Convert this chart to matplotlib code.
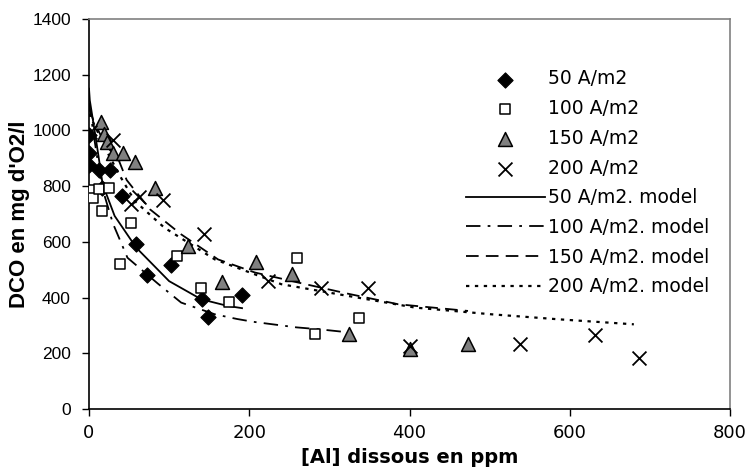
import matplotlib
matplotlib.use("Agg")
import matplotlib.pyplot as plt

plt.rcParams['font.family'] = ['DejaVu Sans']

# ---- data ----
x50 = [0, 0, 0, 13, 26, 16, 41, 59, 73, 102, 141, 149, 191]
y50 = [983, 918, 876, 858, 858, 792, 765, 593, 481, 516, 394, 330, 408]

x100 = [3, 5, 12, 25, 16, 53, 39, 110, 140, 175, 260, 282, 337]
y100 = [786, 756, 790, 792, 712, 669, 519, 549, 433, 384, 541, 268, 325]

x150 = [15, 19, 22, 30, 43, 57, 82, 124, 166, 209, 253, 325, 400, 473]
y150 = [1031, 987, 960, 920, 920, 888, 792, 585, 456, 528, 486, 268, 216, 234]

x200 = [1, 30, 62, 53, 92, 144, 223, 289, 348, 400, 538, 631, 686]
y200 = [995, 965, 760, 736, 750, 627, 459, 435, 435, 226, 234, 264, 184]

m50_x = [0, 1, 7.5, 12, 17, 32, 59, 100, 140, 173, 191]
m50_y = [1150, 1108, 990, 905, 807, 693, 579, 459, 394, 370, 362]

m100_x = [0, 5, 12, 20, 30, 48, 86, 115, 157, 185, 205, 259, 288, 334]
m100_y = [1100, 1000, 870, 760, 665, 543, 450, 382, 340, 323, 313, 293, 286, 272]

m150_x = [0, 5, 20, 37, 47, 76, 115, 161, 207, 261, 323, 386, 473]
m150_y = [1080, 1040, 950, 894, 822, 717, 627, 537, 490, 454, 414, 376, 352]

m200_x = [0, 10, 25, 40, 57, 94, 157, 240, 323, 407, 502, 586, 680]
m200_y = [1060, 1000, 910, 830, 747, 651, 537, 448, 406, 364, 340, 322, 304]

x_ticks = [0, 200, 400, 600, 800]
y_ticks = [0, 200, 400, 600, 800, 1000, 1200, 1400]

labels = ["50 A/m2", "100 A/m2", "150 A/m2", "200 A/m2",
          "50 A/m2. model", "100 A/m2. model", "150 A/m2. model", "200 A/m2. model"]

fig = plt.figure(figsize=(7.5, 4.75), dpi=100)
ax = fig.add_axes([89/750, 1-409/475, (730-89)/750, (409-19)/475])

ax.scatter(x50, y50, marker='D', s=60, c='black', edgecolors='black', linewidths=0.8, zorder=3, label=labels[0])
ax.scatter(x100, y100, marker='s', s=60, c='white', edgecolors='black', linewidths=1.1, zorder=3, label=labels[1])
ax.scatter(x150, y150, marker='^', s=100, c='#808080', edgecolors='black', linewidths=1.1, zorder=3, label=labels[2])
ax.scatter(x200, y200, marker='x', s=100, c='black', linewidths=1.3, zorder=3, label=labels[3])

ax.plot(m50_x, m50_y, color='black', lw=1.3, ls='-', label=labels[4], zorder=2)
ax.plot(m100_x, m100_y, color='black', lw=1.3, ls=(0, (8, 4, 1.5, 4)), label=labels[5], zorder=2)
ax.plot(m150_x, m150_y, color='black', lw=1.3, ls=(0, (7, 4)), label=labels[6], zorder=2)
ax.plot(m200_x, m200_y, color='black', lw=1.6, ls=(0, (1.5, 2.5)), label=labels[7], zorder=2)

ax.set_xlim(0, 800)
ax.set_ylim(0, 1400)
ax.set_xticks(x_ticks)
ax.set_yticks(y_ticks)
ax.tick_params(axis='both', direction='out', length=5, width=1, colors='black')
ax.tick_params(axis='x', labelsize=13, pad=6)
ax.tick_params(axis='y', pad=8)
for lab in ax.get_yticklabels():
    lab.set_family(['Liberation Sans', 'DejaVu Sans'])
    lab.set_fontsize(12.5)
for s in ['left', 'bottom']:
    ax.spines[s].set_color('black')
    ax.spines[s].set_linewidth(1.2)
for s in ['top', 'right']:
    ax.spines[s].set_color('#808080')
    ax.spines[s].set_linewidth(1.2)

ax.set_xlabel("[Al] dissous en ppm", fontsize=14, fontweight='bold', labelpad=4)
ax.set_ylabel("DCO en mg d'O2/l", fontsize=16, fontweight='bold', labelpad=2,
              family=['Liberation Sans', 'DejaVu Sans'])

leg = ax.legend(loc='upper left', bbox_to_anchor=(458/750, 1-62/475), bbox_transform=fig.transFigure,
                frameon=False, fontsize=13.5, handlelength=4.25, handletextpad=0.15,
                labelspacing=0.57, borderaxespad=0, scatterpoints=1)

fig.savefig("out.png", dpi=100)
